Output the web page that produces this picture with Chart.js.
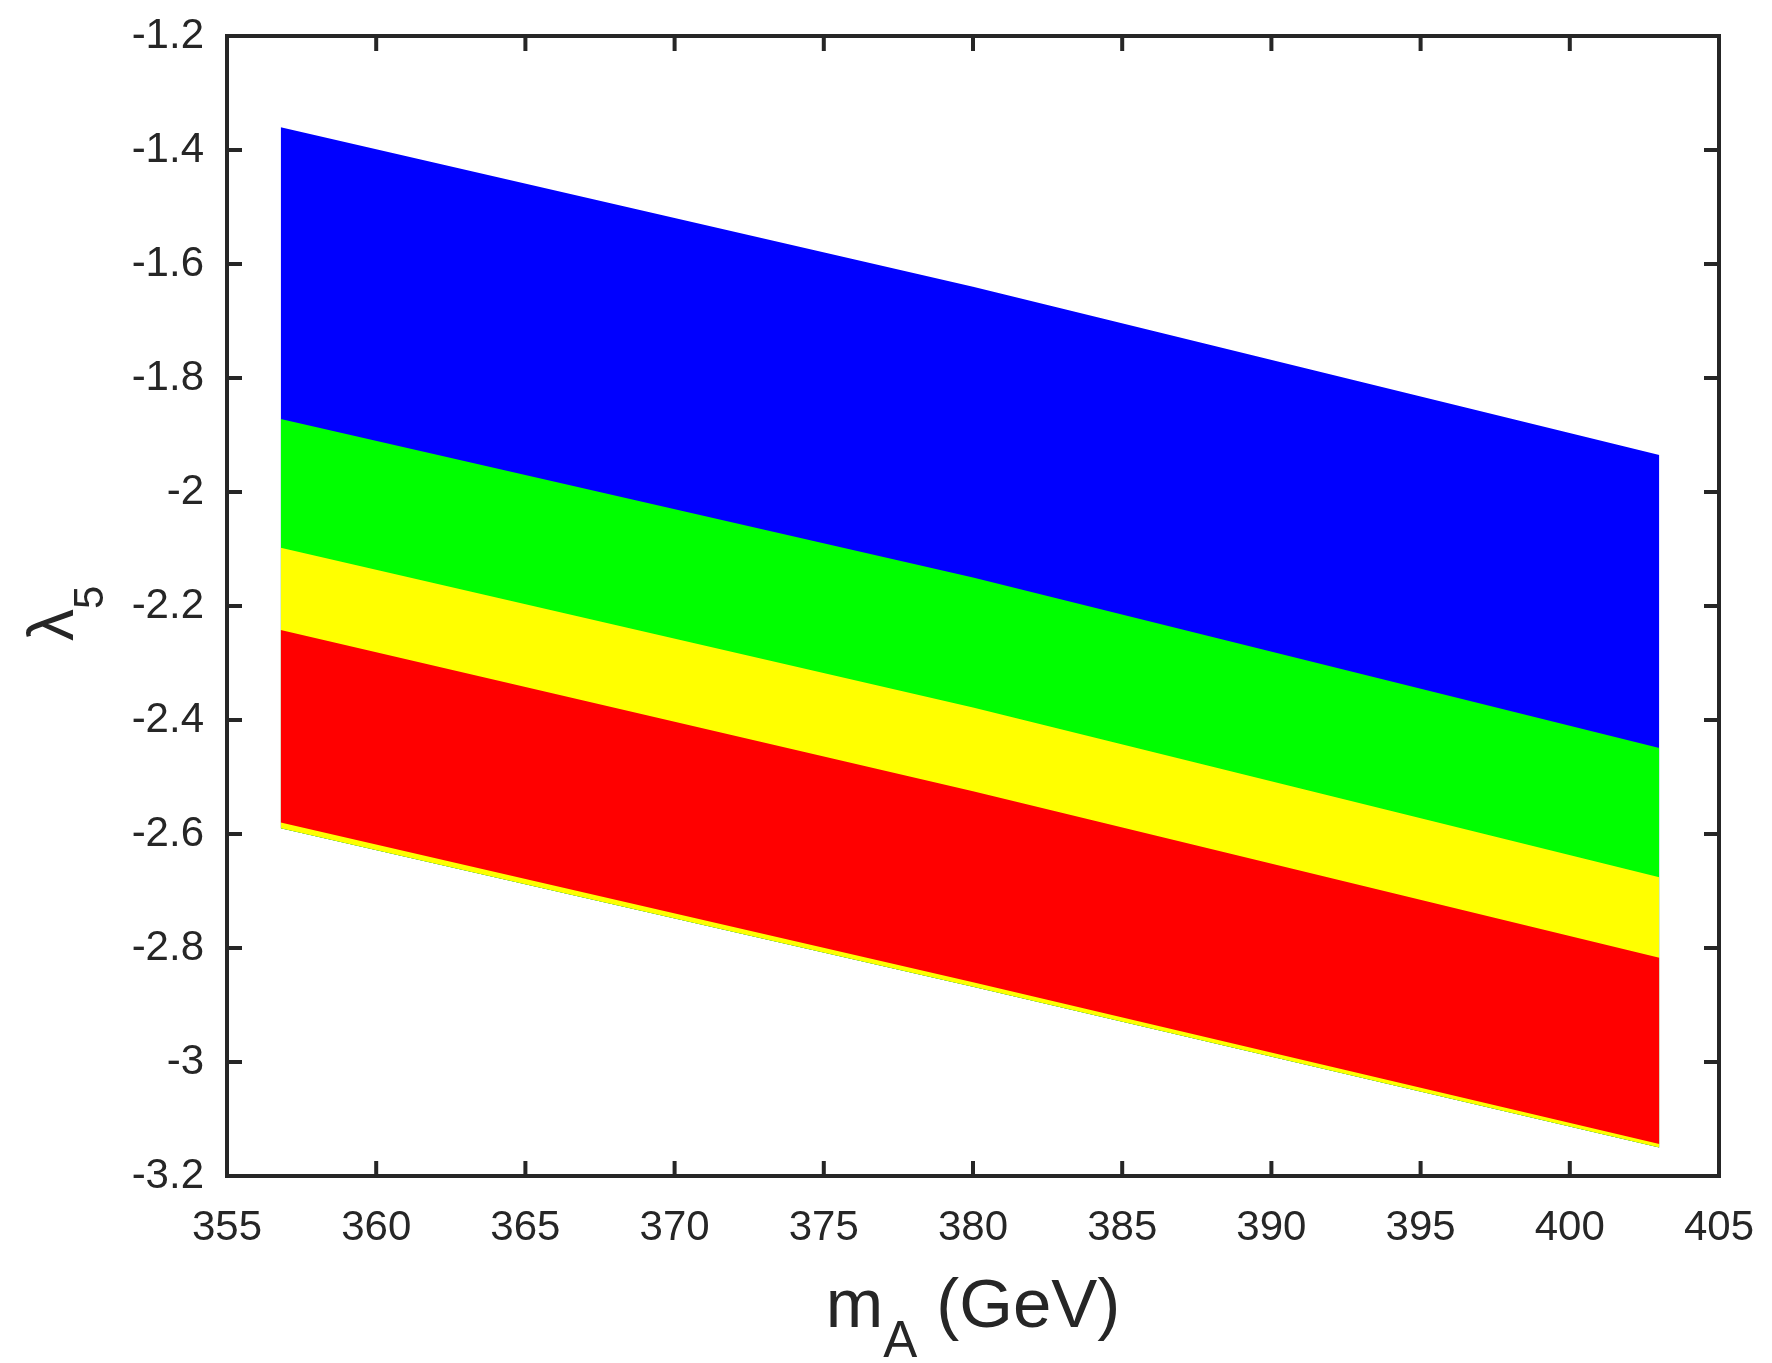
<!DOCTYPE html>
<html>
<head>
<meta charset="utf-8">
<script src="https://cdn.jsdelivr.net/npm/chart.js@4.4.1/dist/chart.umd.min.js"></script>
<style>
  html, body { margin: 0; padding: 0; background: #ffffff; }
  #wrap { position: relative; width: 1772px; height: 1363px; overflow: hidden; background: #fff; }
  #c { position: absolute; left: 0; top: 0; }
  .ttl { position: absolute; font-family: "Liberation Sans", Arial, sans-serif; color: #262626; white-space: nowrap; }
  #xt { left: 227px; width: 1492px; top: 1269px; text-align: center; font-size: 69px; line-height: 69px; }
  #xt .sub { font-size: 51px; position: relative; top: 30px; }
  #yt { left: 19px; top: 641px; font-size: 64px; line-height: 64px; transform-origin: 0 0; transform: rotate(-90deg); }
  #yt .sub { font-size: 42px; position: relative; top: 30px; }
</style>
</head>
<body>
<div id="wrap">
  <canvas id="c" width="1772" height="1363"></canvas>
  <div class="ttl" id="xt">m<span class="sub">A</span> (GeV)</div>
  <div class="ttl" id="yt">λ<span class="sub">5</span></div>
</div>
<script>
// m_A sample positions along the band (GeV)
const mA = [356.8, 380, 403.0];
// band edges of lambda_5
const blueTop      = [-1.360, -1.640, -1.935];
const greenTop     = [-1.872, -2.150, -2.449];
const yellowTop    = [-2.098, -2.378, -2.676];
const redTop       = [-2.242, -2.525, -2.817];
const redBottom    = [-2.580, -2.860, -3.144];
const yellowBottom = [-2.590, -2.868, -3.150];

const xTicks = [355, 360, 365, 370, 375, 380, 385, 390, 395, 400, 405];
const yTicks = [-1.2, -1.4, -1.6, -1.8, -2, -2.2, -2.4, -2.6, -2.8, -3, -3.2];

const pts = arr => mA.map((x, i) => ({ x: x, y: arr[i] }));
const band = (arr, color, target) => ({
  data: pts(arr), fill: target, backgroundColor: color, borderWidth: 0,
  borderColor: color, pointRadius: 0, tension: 0, showLine: true
});

const AXIS = '#262626';
const frame = {
  id: 'frame',
  afterDraw(chart) {
    const { ctx, chartArea: a, scales: { x, y } } = chart;
    ctx.save();
    ctx.strokeStyle = AXIS;
    ctx.lineWidth = 4;
    const L = 15;
    ctx.beginPath();
    xTicks.forEach(v => {
      const px = x.getPixelForValue(v);
      ctx.moveTo(px, a.bottom); ctx.lineTo(px, a.bottom - L);
      ctx.moveTo(px, a.top); ctx.lineTo(px, a.top + L);
    });
    yTicks.forEach(v => {
      const py = y.getPixelForValue(v);
      ctx.moveTo(a.left, py); ctx.lineTo(a.left + L, py);
      ctx.moveTo(a.right, py); ctx.lineTo(a.right - L, py);
    });
    ctx.stroke();
    ctx.strokeRect(a.left, a.top, a.right - a.left, a.bottom - a.top);
    ctx.restore();
  }
};

new Chart(document.getElementById('c'), {
  type: 'line',
  data: {
    datasets: [
      band(redTop, '#ff0000', 4),
      band(yellowTop, '#ffff00', 5),
      band(greenTop, '#00ff00', 5),
      band(blueTop, '#0000ff', 5),
      band(redBottom, '#ff0000', false),
      band(yellowBottom, '#ffff00', false)
    ]
  },
  options: {
    responsive: false,
    animation: false,
    devicePixelRatio: 1,
    // frame lands at left 227, top 36, right 1719, bottom 1176
    layout: { padding: { left: 0, top: 36, right: 53, bottom: 0 } },
    plugins: { legend: { display: false }, tooltip: { enabled: false } },
    scales: {
      x: {
        type: 'linear', min: 355, max: 405,
        afterFit(s) {
          s.height = 187;
          s.paddingLeft = 0; s.paddingRight = 0; s.paddingTop = 0; s.paddingBottom = 0;
        },
        afterBuildTicks(s) { s.ticks = xTicks.map(v => ({ value: v })); },
        grid: { display: false, drawTicks: false },
        border: { display: false },
        ticks: {
          padding: 27, color: AXIS, maxRotation: 0, autoSkip: false,
          font: { family: '"Liberation Sans", Arial, sans-serif', size: 42 },
          callback: v => String(v)
        }
      },
      y: {
        type: 'linear', min: -3.2, max: -1.2,
        afterFit(s) {
          s.width = 227;
          s.paddingLeft = 0; s.paddingRight = 0; s.paddingTop = 0; s.paddingBottom = 0;
        },
        afterBuildTicks(s) { s.ticks = yTicks.map(v => ({ value: v })); },
        grid: { display: false, drawTicks: false },
        border: { display: false },
        ticks: {
          padding: 23, color: AXIS, autoSkip: false,
          font: { family: '"Liberation Sans", Arial, sans-serif', size: 42 },
          callback: v => String(Number(v.toFixed(1)))
        }
      }
    }
  },
  plugins: [frame]
});
</script>
</body>
</html>
